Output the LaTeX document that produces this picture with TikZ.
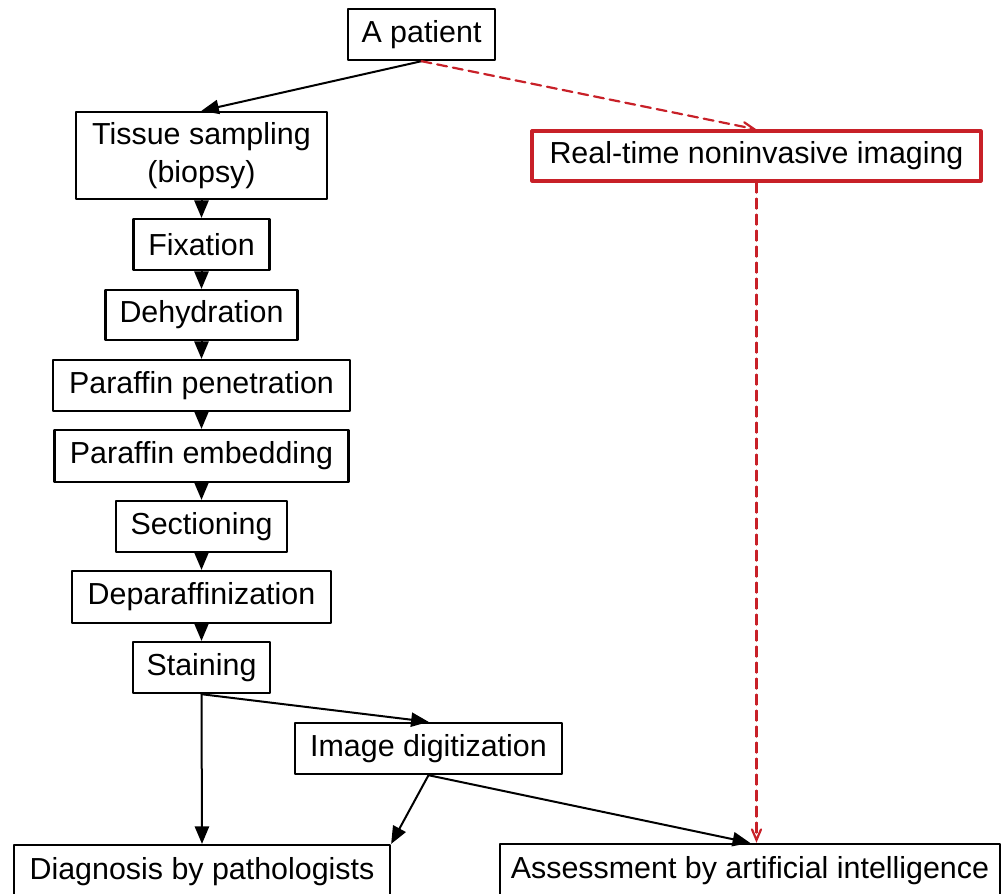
\documentclass[tikz,border=0pt]{standalone}
\usepackage{fontspec}
\setmainfont{Liberation Sans}
\usepackage{xcolor}
\usetikzlibrary{arrows}

\definecolor{imgred}{RGB}{200,32,40}

\begin{document}
\begin{tikzpicture}[line cap=round,line join=round,>=triangle 45,x=0.5pt,y=-0.5pt,
    box/.style={draw,line width=1.2pt,inner sep=0pt,align=center,
      font=\fontsize{15.2}{19}\selectfont},
    redbox/.style={box,draw=imgred,line width=1.6pt},
    flow/.style={->,line width=1pt},
    redflow/.style={-angle 45,draw=imgred,line width=1.1pt,dash pattern=on 5pt off 3pt}]
            \useasboundingbox (0,0) rectangle (1003,894);
            \clip(0,0) rectangle (1003,894);
            % boxes of the tissue route
            \node[box,minimum width=147*0.5pt,minimum height=51*0.5pt] (patient) at (421.5,34.5) {A patient};
            \node[box,minimum width=251*0.5pt,minimum height=87*0.5pt] (biopsy) at (201.5,155.5) {Tissue sampling\\(biopsy)};
            \node[box,minimum width=136*0.5pt,minimum height=51*0.5pt] (fixation) at (201.5,244.5) {Fixation};
            \node[box,minimum width=192*0.5pt,minimum height=50*0.5pt] (dehydration) at (201.5,315) {Dehydration};
            \node[box,minimum width=297*0.5pt,minimum height=51*0.5pt] (penetration) at (201.5,385.5) {Paraffin penetration};
            \node[box,minimum width=294*0.5pt,minimum height=52*0.5pt] (embedding) at (201.5,456) {Paraffin embedding};
            \node[box,minimum width=171*0.5pt,minimum height=51*0.5pt] (sectioning) at (201.5,526.5) {Sectioning};
            \node[box,minimum width=259*0.5pt,minimum height=52*0.5pt] (deparaffin) at (201.5,597) {Deparaffinization};
            \node[box,minimum width=137*0.5pt,minimum height=51*0.5pt] (staining) at (201.5,667.5) {Staining};
            \node[box,minimum width=267*0.5pt,minimum height=51*0.5pt] (digitization) at (428.5,748.5) {Image digitization};
            \node[box,minimum width=376*0.5pt,minimum height=54*0.5pt] (pathologist) at (202,872) {Diagnosis by pathologists};
            \node[box,minimum width=500*0.5pt,minimum height=54*0.5pt] (ai) at (750,871) {Assessment by artificial intelligence};
            % imaging route
            \node[redbox,minimum width=449*0.5pt,minimum height=50*0.5pt] (imaging) at (756.5,156) {Real-time noninvasive imaging};
            \draw [flow] (patient.south) -- (biopsy.north);
            \draw [flow] (biopsy) -- (fixation);
            \draw [flow] (fixation) -- (dehydration);
            \draw [flow] (dehydration) -- (penetration);
            \draw [flow] (penetration) -- (embedding);
            \draw [flow] (embedding) -- (sectioning);
            \draw [flow] (sectioning) -- (deparaffin);
            \draw [flow] (deparaffin) -- (staining);
            \draw [flow] (staining.south) -- (pathologist.north);
            \draw [flow] (staining.south) -- (digitization.north);
            \draw [flow] (digitization.south) -- (pathologist.north east);
            \draw [flow] (digitization.south) -- (ai.north);
            \draw [redflow] (patient.south) -- (imaging.north);
            \draw [redflow] (imaging.south) -- (imaging.south |- ai.north);
\end{tikzpicture}
\end{document}
